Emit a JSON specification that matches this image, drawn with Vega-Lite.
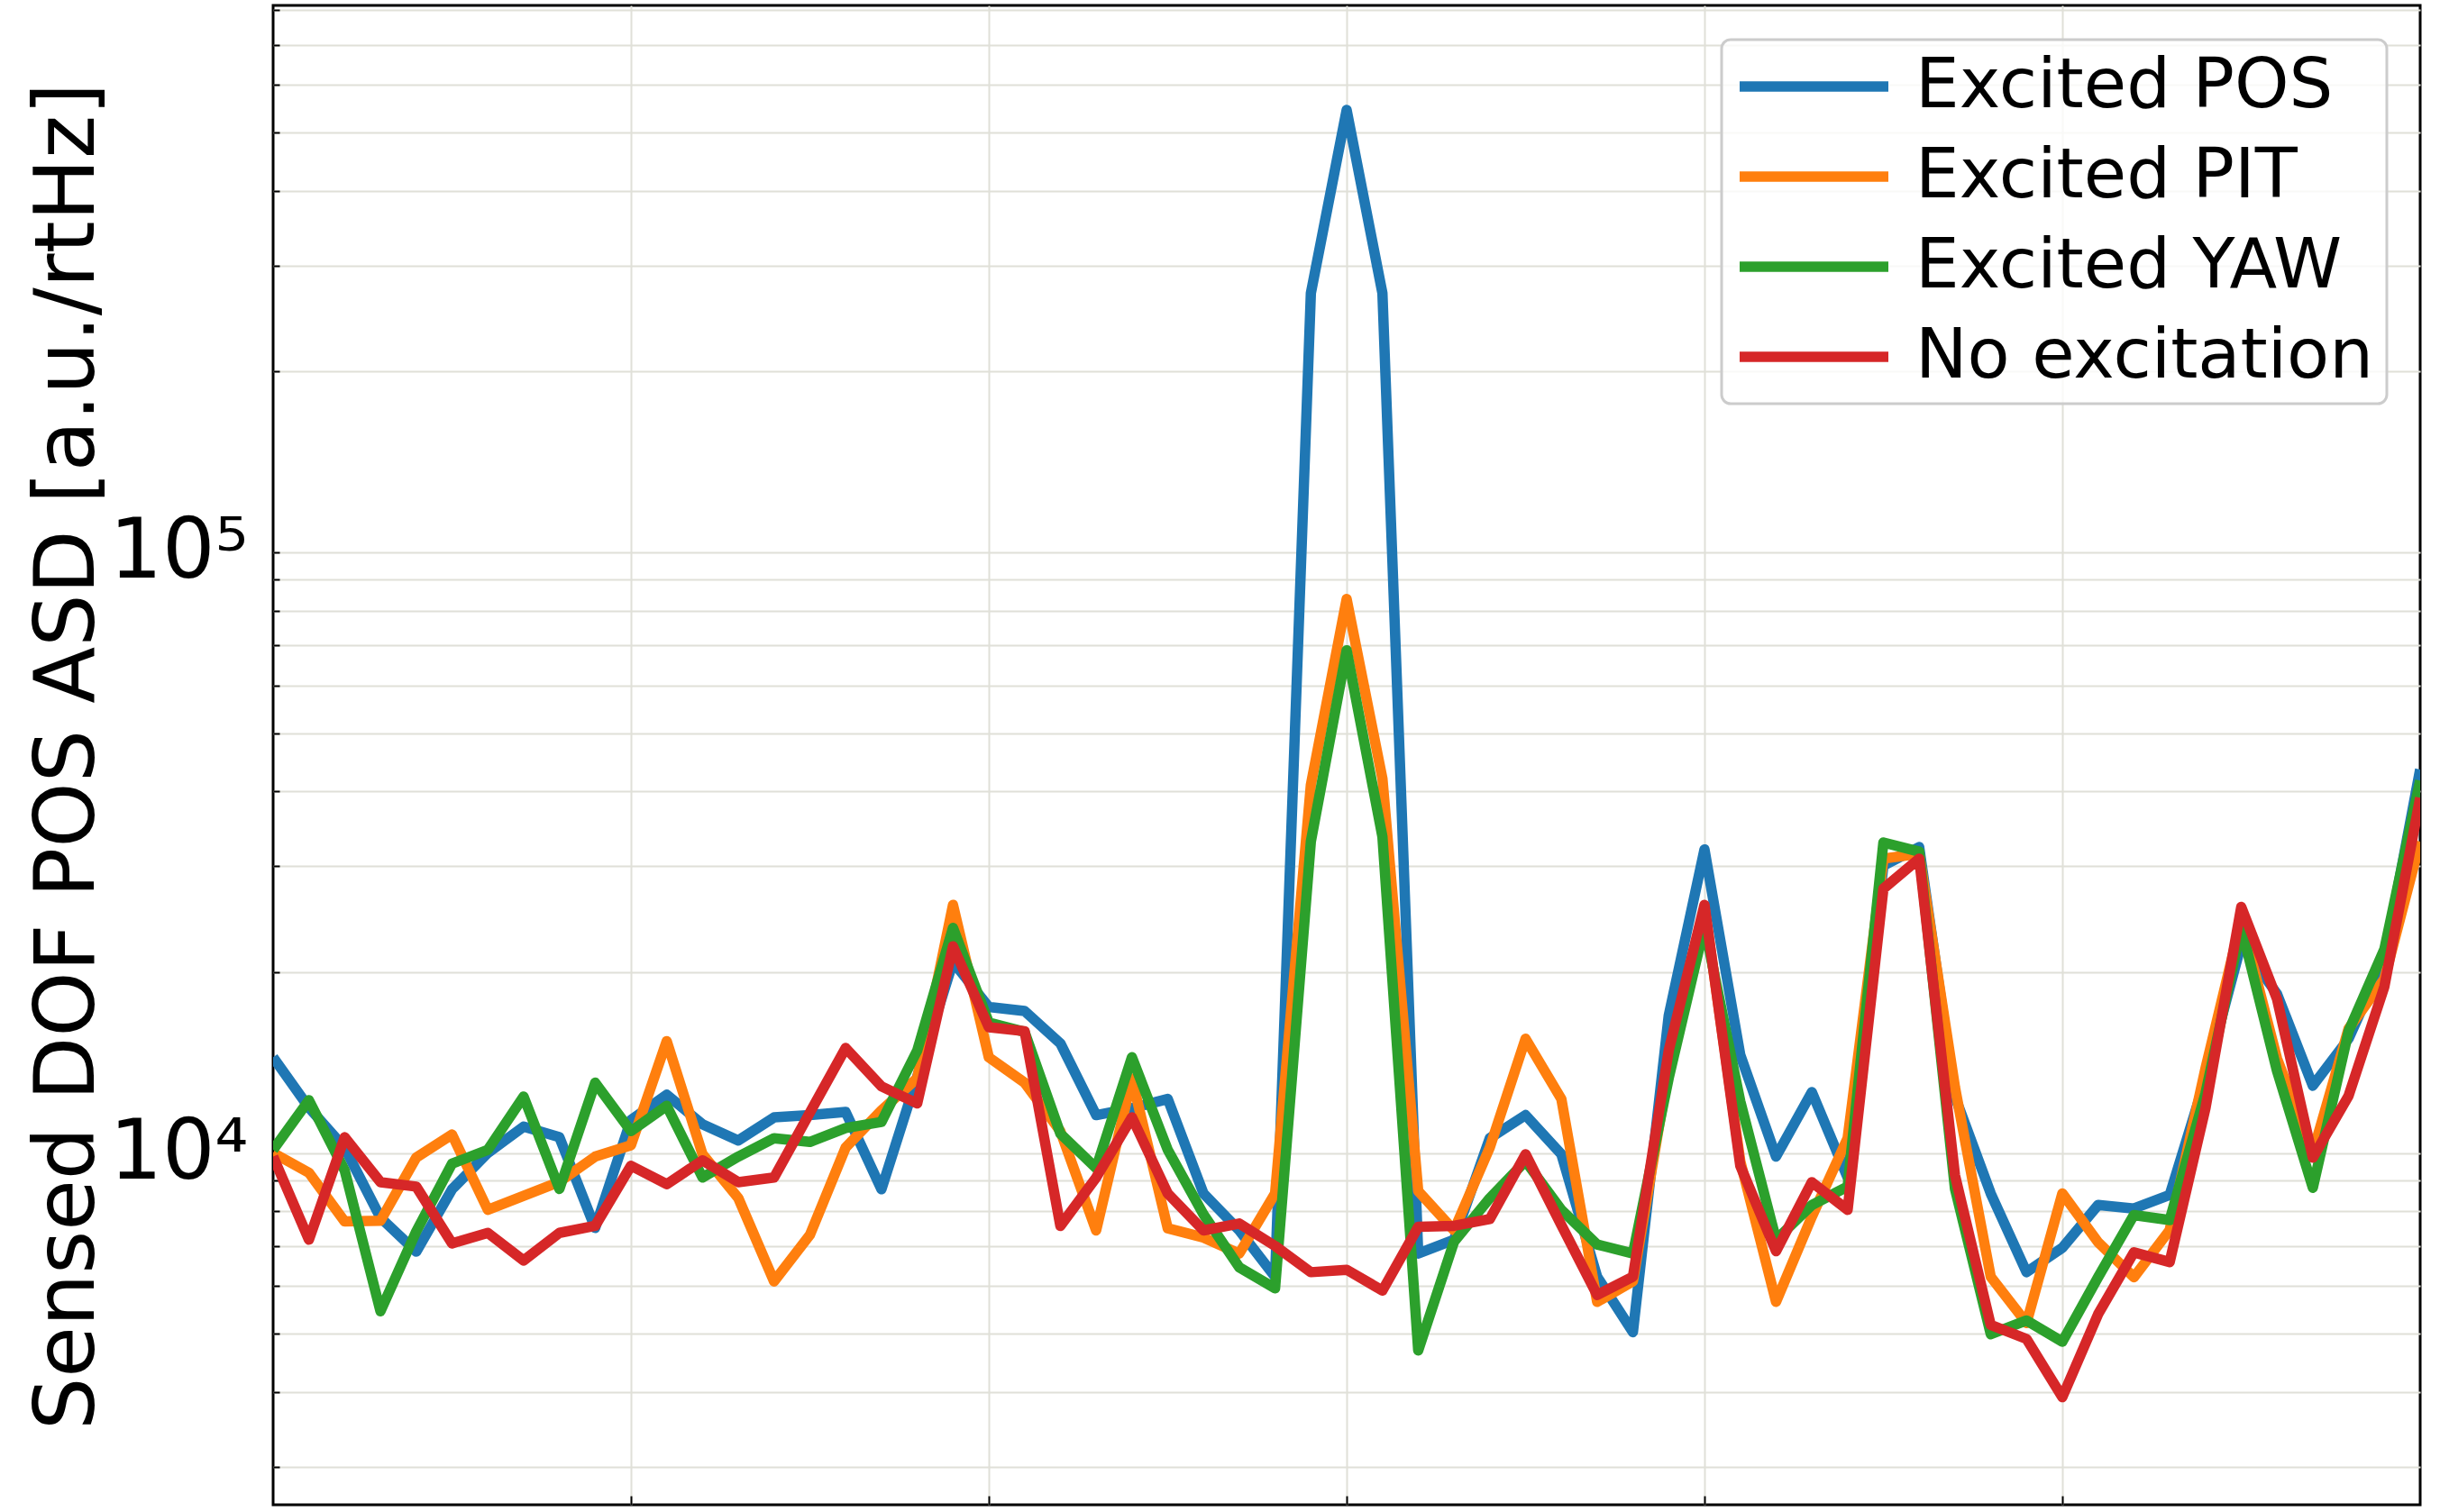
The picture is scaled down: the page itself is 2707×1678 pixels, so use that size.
{
  "$schema": "https://vega.github.io/schema/vega-lite/v6.json",
  "width": 2382,
  "height": 1664,
  "autosize": {"type": "none"},
  "padding": {"left": 303, "top": 6, "right": 22, "bottom": 8},
  "background": "white",
  "config": {
    "font": "DejaVu Sans",
    "view": {"stroke": "black", "strokeWidth": 3},
    "axis": {"domain": false, "gridColor": "#e0e0d8", "gridWidth": 2, "gridOpacity": 1, "tickColor": "black", "tickWidth": 2},
    "legend": {"strokeWidth": 3}
  },
  "data": {"values": [
    {"f":0,"s":"Excited POS","v":14430},{"f":1,"s":"Excited POS","v":11900},{"f":2,"s":"Excited POS","v":10200},{"f":3,"s":"Excited POS","v":7800},{"f":4,"s":"Excited POS","v":6850},{"f":5,"s":"Excited POS","v":8700},{"f":6,"s":"Excited POS","v":10000},{"f":7,"s":"Excited POS","v":11060},{"f":8,"s":"Excited POS","v":10620},{"f":9,"s":"Excited POS","v":7500},
    {"f":10,"s":"Excited POS","v":11350},{"f":11,"s":"Excited POS","v":12500},{"f":12,"s":"Excited POS","v":11160},{"f":13,"s":"Excited POS","v":10490},{"f":14,"s":"Excited POS","v":11460},{"f":15,"s":"Excited POS","v":11560},{"f":16,"s":"Excited POS","v":11700},{"f":17,"s":"Excited POS","v":8700},{"f":18,"s":"Excited POS","v":13400},{"f":19,"s":"Excited POS","v":20800},
    {"f":20,"s":"Excited POS","v":17500},{"f":21,"s":"Excited POS","v":17230},{"f":22,"s":"Excited POS","v":15220},{"f":23,"s":"Excited POS","v":11560},{"f":24,"s":"Excited POS","v":11870},{"f":25,"s":"Excited POS","v":12300},{"f":26,"s":"Excited POS","v":8560},{"f":27,"s":"Excited POS","v":7430},{"f":28,"s":"Excited POS","v":6220},{"f":29,"s":"Excited POS","v":270000},
    {"f":30,"s":"Excited POS","v":545000},{"f":31,"s":"Excited POS","v":270000},{"f":32,"s":"Excited POS","v":6800},{"f":33,"s":"Excited POS","v":7170},{"f":34,"s":"Excited POS","v":10580},{"f":35,"s":"Excited POS","v":11560},{"f":36,"s":"Excited POS","v":9950},{"f":37,"s":"Excited POS","v":6220},{"f":38,"s":"Excited POS","v":5030},{"f":39,"s":"Excited POS","v":16920},
    {"f":40,"s":"Excited POS","v":32010},{"f":41,"s":"Excited POS","v":14560},{"f":42,"s":"Excited POS","v":9860},{"f":43,"s":"Excited POS","v":12630},{"f":44,"s":"Excited POS","v":9100},{"f":45,"s":"Excited POS","v":30100},{"f":46,"s":"Excited POS","v":32300},{"f":47,"s":"Excited POS","v":12410},{"f":48,"s":"Excited POS","v":8560},{"f":49,"s":"Excited POS","v":6330},
    {"f":50,"s":"Excited POS","v":6950},{"f":51,"s":"Excited POS","v":8190},{"f":52,"s":"Excited POS","v":8080},{"f":53,"s":"Excited POS","v":8510},{"f":54,"s":"Excited POS","v":13300},{"f":55,"s":"Excited POS","v":22260},{"f":56,"s":"Excited POS","v":18400},{"f":57,"s":"Excited POS","v":12940},{"f":58,"s":"Excited POS","v":15500},{"f":59,"s":"Excited POS","v":21030},{"f":60,"s":"Excited POS","v":43500},

    {"f":0,"s":"Excited PIT","v":10000},{"f":1,"s":"Excited PIT","v":9270},{"f":2,"s":"Excited PIT","v":7690},{"f":3,"s":"Excited PIT","v":7710},{"f":4,"s":"Excited PIT","v":9825},{"f":5,"s":"Excited PIT","v":10730},{"f":6,"s":"Excited PIT","v":8040},{"f":7,"s":"Excited PIT","v":8480},{"f":8,"s":"Excited PIT","v":8950},{"f":9,"s":"Excited PIT","v":9860},
    {"f":10,"s":"Excited PIT","v":10300},{"f":11,"s":"Excited PIT","v":15350},{"f":12,"s":"Excited PIT","v":9950},{"f":13,"s":"Excited PIT","v":8410},{"f":14,"s":"Excited PIT","v":6110},{"f":15,"s":"Excited PIT","v":7300},{"f":16,"s":"Excited PIT","v":10210},{"f":17,"s":"Excited PIT","v":11770},{"f":18,"s":"Excited PIT","v":13320},{"f":19,"s":"Excited PIT","v":25880},
    {"f":20,"s":"Excited PIT","v":14430},{"f":21,"s":"Excited PIT","v":13090},{"f":22,"s":"Excited PIT","v":10870},{"f":23,"s":"Excited PIT","v":7430},{"f":24,"s":"Excited PIT","v":13300},{"f":25,"s":"Excited PIT","v":7490},{"f":26,"s":"Excited PIT","v":7230},{"f":27,"s":"Excited PIT","v":6800},{"f":28,"s":"Excited PIT","v":8560},{"f":29,"s":"Excited PIT","v":41000},
    {"f":30,"s":"Excited PIT","v":83600},{"f":31,"s":"Excited PIT","v":42000},{"f":32,"s":"Excited PIT","v":8640},{"f":33,"s":"Excited PIT","v":7430},{"f":34,"s":"Excited PIT","v":10210},{"f":35,"s":"Excited PIT","v":15490},{"f":36,"s":"Excited PIT","v":12300},{"f":37,"s":"Excited PIT","v":5650},{"f":38,"s":"Excited PIT","v":6110},{"f":39,"s":"Excited PIT","v":13800},
    {"f":40,"s":"Excited PIT","v":25660},{"f":41,"s":"Excited PIT","v":9690},{"f":42,"s":"Excited PIT","v":5650},{"f":43,"s":"Excited PIT","v":7830},{"f":44,"s":"Excited PIT","v":10580},{"f":45,"s":"Excited PIT","v":30900},{"f":46,"s":"Excited PIT","v":31480},{"f":47,"s":"Excited PIT","v":12860},{"f":48,"s":"Excited PIT","v":6220},{"f":49,"s":"Excited PIT","v":5210},
    {"f":50,"s":"Excited PIT","v":8560},{"f":51,"s":"Excited PIT","v":7100},{"f":52,"s":"Excited PIT","v":6210},{"f":53,"s":"Excited PIT","v":7440},{"f":54,"s":"Excited PIT","v":13830},{"f":55,"s":"Excited PIT","v":24470},{"f":56,"s":"Excited PIT","v":14360},{"f":57,"s":"Excited PIT","v":10000},{"f":58,"s":"Excited PIT","v":16100},{"f":59,"s":"Excited PIT","v":19480},{"f":60,"s":"Excited PIT","v":33000},

    {"f":0,"s":"Excited YAW","v":10120},{"f":1,"s":"Excited YAW","v":12240},{"f":2,"s":"Excited YAW","v":9350},{"f":3,"s":"Excited YAW","v":5450},{"f":4,"s":"Excited YAW","v":7400},{"f":5,"s":"Excited YAW","v":9600},{"f":6,"s":"Excited YAW","v":10120},{"f":7,"s":"Excited YAW","v":12410},{"f":8,"s":"Excited YAW","v":8710},{"f":9,"s":"Excited YAW","v":13090},
    {"f":10,"s":"Excited YAW","v":10870},{"f":11,"s":"Excited YAW","v":11980},{"f":12,"s":"Excited YAW","v":9100},{"f":13,"s":"Excited YAW","v":9860},{"f":14,"s":"Excited YAW","v":10580},{"f":15,"s":"Excited YAW","v":10430},{"f":16,"s":"Excited YAW","v":11000},{"f":17,"s":"Excited YAW","v":11260},{"f":18,"s":"Excited YAW","v":14810},{"f":19,"s":"Excited YAW","v":23700},
    {"f":20,"s":"Excited YAW","v":16480},{"f":21,"s":"Excited YAW","v":15910},{"f":22,"s":"Excited YAW","v":10770},{"f":23,"s":"Excited YAW","v":9430},{"f":24,"s":"Excited YAW","v":14430},{"f":25,"s":"Excited YAW","v":10120},{"f":26,"s":"Excited YAW","v":7900},{"f":27,"s":"Excited YAW","v":6450},{"f":28,"s":"Excited YAW","v":5950},{"f":29,"s":"Excited YAW","v":33000},
    {"f":30,"s":"Excited YAW","v":68700},{"f":31,"s":"Excited YAW","v":33600},{"f":32,"s":"Excited YAW","v":4690},{"f":33,"s":"Excited YAW","v":7110},{"f":34,"s":"Excited YAW","v":8410},{"f":35,"s":"Excited YAW","v":9690},{"f":36,"s":"Excited YAW","v":8040},{"f":37,"s":"Excited YAW","v":7040},{"f":38,"s":"Excited YAW","v":6800},{"f":39,"s":"Excited YAW","v":13320},
    {"f":40,"s":"Excited YAW","v":23890},{"f":41,"s":"Excited YAW","v":12190},{"f":42,"s":"Excited YAW","v":7170},{"f":43,"s":"Excited YAW","v":8190},{"f":44,"s":"Excited YAW","v":8790},{"f":45,"s":"Excited YAW","v":32880},{"f":46,"s":"Excited YAW","v":31740},{"f":47,"s":"Excited YAW","v":8710},{"f":48,"s":"Excited YAW","v":4990},{"f":49,"s":"Excited YAW","v":5260},
    {"f":50,"s":"Excited YAW","v":4850},{"f":51,"s":"Excited YAW","v":6210},{"f":52,"s":"Excited YAW","v":7880},{"f":53,"s":"Excited YAW","v":7730},{"f":54,"s":"Excited YAW","v":12570},{"f":55,"s":"Excited YAW","v":23780},{"f":56,"s":"Excited YAW","v":13690},{"f":57,"s":"Excited YAW","v":8750},{"f":58,"s":"Excited YAW","v":15950},{"f":59,"s":"Excited YAW","v":21840},{"f":60,"s":"Excited YAW","v":41700},

    {"f":0,"s":"No excitation","v":9860},{"f":1,"s":"No excitation","v":7170},{"f":2,"s":"No excitation","v":10620},{"f":3,"s":"No excitation","v":8940},{"f":4,"s":"No excitation","v":8790},{"f":5,"s":"No excitation","v":7070},{"f":6,"s":"No excitation","v":7360},{"f":7,"s":"No excitation","v":6620},{"f":8,"s":"No excitation","v":7360},{"f":9,"s":"No excitation","v":7560},
    {"f":10,"s":"No excitation","v":9520},{"f":11,"s":"No excitation","v":8870},{"f":12,"s":"No excitation","v":9720},{"f":13,"s":"No excitation","v":8940},{"f":14,"s":"No excitation","v":9100},{"f":15,"s":"No excitation","v":11670},{"f":16,"s":"No excitation","v":14950},{"f":17,"s":"No excitation","v":12910},{"f":18,"s":"No excitation","v":12090},{"f":19,"s":"No excitation","v":22080},
    {"f":20,"s":"No excitation","v":16190},{"f":21,"s":"No excitation","v":15950},{"f":22,"s":"No excitation","v":7560},{"f":23,"s":"No excitation","v":9100},{"f":24,"s":"No excitation","v":11460},{"f":25,"s":"No excitation","v":8560},{"f":26,"s":"No excitation","v":7430},{"f":27,"s":"No excitation","v":7630},{"f":28,"s":"No excitation","v":7000},{"f":29,"s":"No excitation","v":6330},
    {"f":30,"s":"No excitation","v":6390},{"f":31,"s":"No excitation","v":5900},{"f":32,"s":"No excitation","v":7530},{"f":33,"s":"No excitation","v":7560},{"f":34,"s":"No excitation","v":7760},{"f":35,"s":"No excitation","v":9950},{"f":36,"s":"No excitation","v":7580},{"f":37,"s":"No excitation","v":5800},{"f":38,"s":"No excitation","v":6220},{"f":39,"s":"No excitation","v":14810},
    {"f":40,"s":"No excitation","v":25880},{"f":41,"s":"No excitation","v":9520},{"f":42,"s":"No excitation","v":6860},{"f":43,"s":"No excitation","v":8940},{"f":44,"s":"No excitation","v":8040},{"f":45,"s":"No excitation","v":27540},{"f":46,"s":"No excitation","v":30900},{"f":47,"s":"No excitation","v":9180},{"f":48,"s":"No excitation","v":5170},{"f":49,"s":"No excitation","v":4900},
    {"f":50,"s":"No excitation","v":3920},{"f":51,"s":"No excitation","v":5390},{"f":52,"s":"No excitation","v":6830},{"f":53,"s":"No excitation","v":6580},{"f":54,"s":"No excitation","v":11870},{"f":55,"s":"No excitation","v":25680},{"f":56,"s":"No excitation","v":18040},{"f":57,"s":"No excitation","v":9820},{"f":58,"s":"No excitation","v":12450},{"f":59,"s":"No excitation","v":18920},{"f":60,"s":"No excitation","v":39040}
  ]},
  "encoding": {
    "x": {
      "field": "f", "type": "quantitative",
      "scale": {"domain": [0, 60], "nice": false, "zero": false},
      "axis": {"values": [10, 20, 30, 40, 50], "labels": false, "title": null, "tickSize": -10, "grid": true}
    },
    "y": {
      "field": "v", "type": "quantitative",
      "scale": {"type": "log", "domain": [2595, 814000], "nice": false},
      "axis": {
        "values": [3000,4000,5000,6000,7000,8000,9000,10000,20000,30000,40000,50000,60000,70000,80000,90000,100000,200000,300000,400000,500000,600000,700000,800000],
        "labelExpr": "datum.value == 10000 ? '10⁴' : (datum.value == 100000 ? '10⁵' : '')",
        "labelFontSize": 92, "labelColor": "black", "labelPadding": 35, "labelOverlap": false, "labelFlush": false,
        "tickSize": -7, "grid": true,
        "title": "Sensed DOF POS ASD [a.u./rtHz]",
        "titleFontSize": 92, "titleFontWeight": "normal", "titleColor": "black",
        "titleX": -200, "titleY": 833, "titleAngle": -90, "titleBaseline": "alphabetic", "titleAlign": "center"
      }
    },
    "color": {
      "field": "s", "type": "nominal",
      "scale": {"domain": ["Excited POS", "Excited PIT", "Excited YAW", "No excitation"], "range": ["#1f77b4", "#ff7f0e", "#2ca02c", "#d62728"]},
      "legend": {
        "title": null, "orient": "none", "legendX": 1607, "legendY": 38,
        "symbolType": "stroke", "symbolSize": 27225, "symbolStrokeWidth": 11.5,
        "clipHeight": 76, "rowPadding": 23,
        "labelFontSize": 77, "labelColor": "black", "labelOffset": 24, "labelLimit": 2000,
        "padding": 14, "strokeColor": "#cccccc", "fillColor": "rgba(255,255,255,0.8)", "cornerRadius": 10
      }
    }
  },
  "layer": [
    {"transform": [{"filter": "datum.s === 'Excited POS'"}], "mark": {"type": "line", "strokeWidth": 11.5, "strokeJoin": "round", "clip": true}},
    {"transform": [{"filter": "datum.s === 'Excited PIT'"}], "mark": {"type": "line", "strokeWidth": 11.5, "strokeJoin": "round", "clip": true}},
    {"transform": [{"filter": "datum.s === 'Excited YAW'"}], "mark": {"type": "line", "strokeWidth": 11.5, "strokeJoin": "round", "clip": true}},
    {"transform": [{"filter": "datum.s === 'No excitation'"}], "mark": {"type": "line", "strokeWidth": 11.5, "strokeJoin": "round", "clip": true}}
  ]
}
